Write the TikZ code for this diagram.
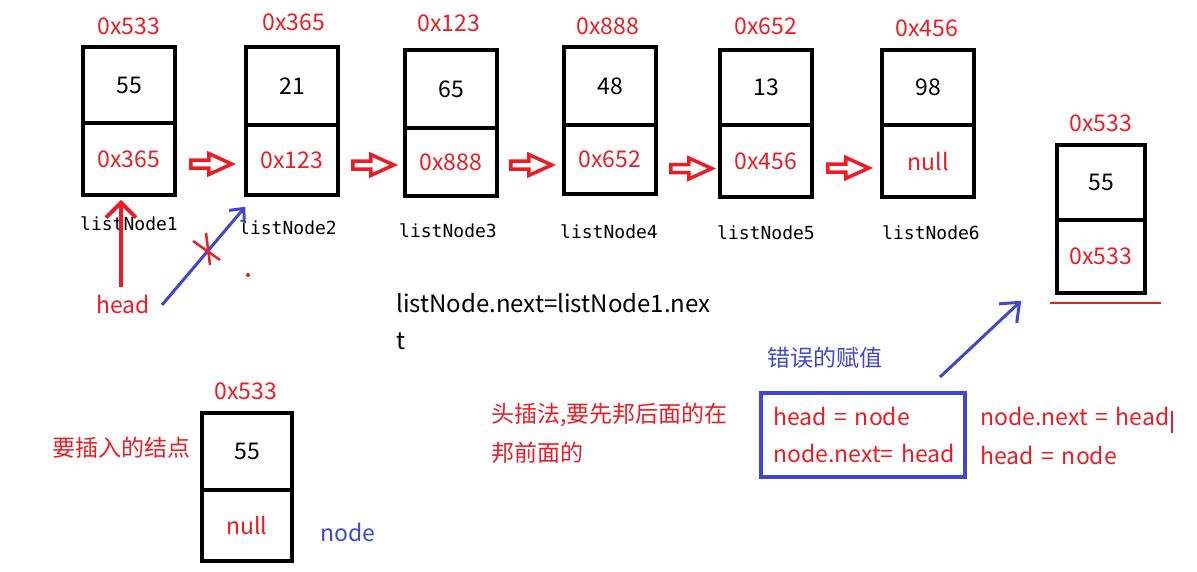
\documentclass[tikz,border=0pt]{standalone}
\usepackage{fontspec}
\setmainfont{Noto Sans CJK SC}
\newfontfamily\widef[WordSpace=1.5]{Noto Sans CJK SC}
\newfontfamily\monof{DejaVu Sans Mono}
\usetikzlibrary{arrows.meta,calc}
\definecolor{pred}{HTML}{ED1C24}
\definecolor{pblue}{HTML}{3F48CC}
\tikzset{
  cell/.style={draw=black, line width=3.5pt, minimum width=92pt, inner sep=0pt, font=\fontsize{23}{26}\selectfont},
  addr/.style={text=pred, font=\fontsize{23}{26}\selectfont, inner sep=0pt},
  lbl/.style={text=black, font=\monof\fontsize{18}{20}\selectfont, inner sep=0pt},
  rtxt/.style={text=pred, font=\widef\fontsize{23}{26}\selectfont, inner sep=0pt},
  btxt/.style={text=pblue, font=\fontsize{23}{26}\selectfont, inner sep=0pt},
  ktxt/.style={text=black, font=\fontsize{24}{27}\selectfont, inner sep=0pt},
  harr/.pic={\draw[pred, line width=3.5pt, line join=miter]
     (0,-4) -- (18,-4) -- (18,-10.5) -- (41,0) -- (18,10.5) -- (18,4) -- (0,4) -- cycle;},
}
\begin{document}
\begin{tikzpicture}[x=1pt,y=-1pt]
\useasboundingbox (0,0) rectangle (1197,571);
% --- list boxes
\node[cell, minimum height=76pt] (t1) at (129,85) {55};
\node[cell, minimum height=72pt, text=pred] (b1) at (129,159) {0x365};
\node[cell, minimum height=78pt] (t2) at (292,86) {21};
\node[cell, minimum height=70pt, text=pred] (b2) at (292,160) {0x123};
\node[cell, minimum height=78pt] (t3) at (451,89) {65};
\node[cell, minimum height=68pt, text=pred] (b3) at (451,162) {0x888};
\node[cell, minimum height=78pt] (t4) at (610,86) {48};
\node[cell, minimum height=69pt, text=pred] (b4) at (610,159.5) {0x652};
\node[cell, minimum height=75pt] (t5) at (766,87.5) {13};
\node[cell, minimum height=72pt, text=pred] (b5) at (766,161) {0x456};
\node[cell, minimum height=75pt] (t6) at (928,87.5) {98};
\node[cell, minimum height=72pt, text=pred] (b6) at (928,161) {null};
\node[cell, minimum width=88pt, minimum height=75pt] (tr) at (1101,182.5) {55};
\node[cell, minimum width=88pt, minimum height=73pt, text=pred] (br) at (1101,256.5) {0x533};
\node[cell, minimum width=90pt, minimum height=77pt] (tn) at (247,451.5) {55};
\node[cell, minimum width=90pt, minimum height=71pt, text=pred] (bn) at (247,525.5) {null};
% --- addresses
\node[addr] (a1) at (129,26) {0x533};
\node[addr] (a2) at (294,22) {0x365};
\node[addr] (a3) at (449,23) {0x123};
\node[addr] (a4) at (608,26) {0x888};
\node[addr] (a5) at (766,26) {0x652};
\node[addr] (a6) at (927,28) {0x456};
\node[addr] (ar) at (1101,123) {0x533};
\node[addr] (an) at (246,391) {0x533};
% --- names
\node[lbl] (l1) at (129,224) {listNode1};
\node[lbl] (l2) at (288,228) {listNode2};
\node[lbl] (l3) at (448,231) {listNode3};
\node[lbl] (l4) at (609,232) {listNode4};
\node[lbl] (l5) at (766,233) {listNode5};
\node[lbl] (l6) at (931,233) {listNode6};
% --- hollow arrows
\pic at ($(b1.east)+(14,5)$) {harr};
\pic at ($(b2.east)+(13,5)$) {harr};
\pic at ($(b3.east)+(12,3)$) {harr};
\pic at ($(b4.east)+(13,9)$) {harr};
\pic at ($(b5.east)+(14,7)$) {harr};
% --- texts
\node[rtxt] (headtxt) at (123,304) {head};
\node[ktxt, anchor=west] (code1) at (396,303) {listNode.next=listNode1.nex};
\node[ktxt, anchor=west] (code2) at (396,341) {t};
\node[rtxt, anchor=west] (cn1) at (491,415) {头插法,要先邦后面的在};
\node[rtxt, anchor=west] (cn2) at (491,453) {邦前面的};
\node[rtxt] (ins) at (121,448) {要插入的结点};
\node[btxt] (nodetxt) at (348,532) {node};
\node[btxt, anchor=west] (wrong) at (767,358) {错误的赋值};
\draw[pblue, line width=3.5pt] (761,393) rectangle (965,477);
\coordinate (wboxne) at (965,393);
\node[rtxt, anchor=west] (w1) at (773,416) {head = node};
\node[rtxt, anchor=west] (w2) at (773,453) {node.next= head};
\begin{scope}
\clip (975,395) rectangle (1170,440);
\node[rtxt, anchor=west] (r1) at (980,416) {node.next = head};
\end{scope}
\node[rtxt, anchor=west] (r2) at (980,455) {head = node};
\draw[pred, line width=1.5pt] (1172,411) -- (1172,433);
% --- line arrows
\draw[pred, line width=4pt, -{Straight Barb[length=15pt,width=30pt]}]
  ($(headtxt.north)+(-2,-8)$) -- ($(b1.south)+(-8,3)$);
\draw[pblue, line width=3pt, -{Straight Barb[length=11pt,width=20pt]}]
  ($(headtxt.east)+(12,1)$) -- ($(b2.south west)+(1,10)$);
\draw[pblue, line width=3pt, -{Straight Barb[length=16pt,width=26pt]}]
  ($(wboxne)+(-25,-16)$) -- ($(br.south west)+(-34,6)$);
% --- marks
\draw[pred, line width=2.5pt] (193,241) -- (220,260);
\draw[pred, line width=2.5pt] (206,233) -- (210,265);
\fill[pred] (248,275) circle (2);
\draw[pred, line width=1.5pt] (1050,303) -- (1161,303);
\end{tikzpicture}
\end{document}
